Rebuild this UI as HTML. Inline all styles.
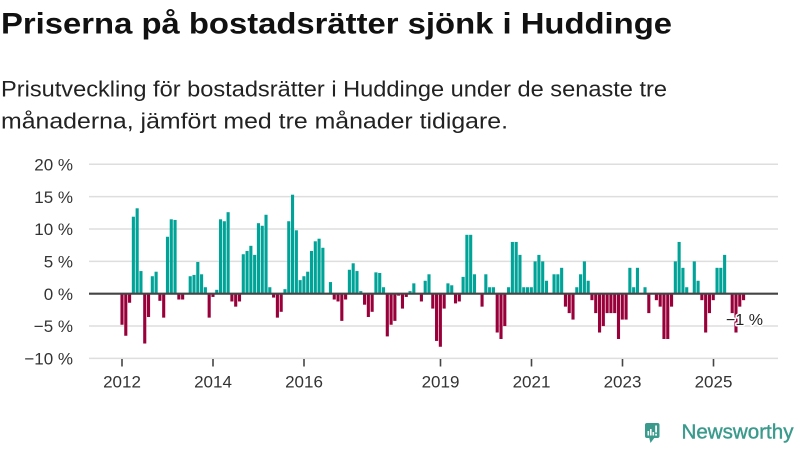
<!DOCTYPE html>
<html><head><meta charset="utf-8"><style>
html,body{margin:0;padding:0;background:#fff;}
svg{display:block;font-family:"Liberation Sans",sans-serif;}
</style></head><body>
<svg width="800" height="450" viewBox="0 0 800 450" xmlns="http://www.w3.org/2000/svg">
<rect width="800" height="450" fill="#fff"/>
<text x="1" y="33.3" font-size="30" font-weight="bold" fill="#111" textLength="671" lengthAdjust="spacingAndGlyphs">Priserna på bostadsrätter sjönk i Huddinge</text>
<text x="1" y="96.7" font-size="22.5" fill="#222" textLength="666" lengthAdjust="spacingAndGlyphs">Prisutveckling för bostadsrätter i Huddinge under de senaste tre</text>
<text x="1" y="128.3" font-size="22.5" fill="#222" textLength="507" lengthAdjust="spacingAndGlyphs">månaderna, jämfört med tre månader tidigare.</text>

<g stroke="#dedede" stroke-width="1.5">
<line x1="89" x2="778" y1="164.3" y2="164.3"/>
<line x1="89" x2="778" y1="196.6" y2="196.6"/>
<line x1="89" x2="778" y1="229.0" y2="229.0"/>
<line x1="89" x2="778" y1="261.35" y2="261.35"/>
<line x1="89" x2="778" y1="326.05" y2="326.05"/>
<line x1="89" x2="778" y1="358.4" y2="358.4"/>
</g>
<g font-size="17" fill="#333" text-anchor="end">
<text x="73" y="170.5">20 %</text>
<text x="73" y="202.8">15 %</text>
<text x="73" y="235.2">10 %</text>
<text x="73" y="267.5">5 %</text>
<text x="73" y="299.9">0 %</text>
<text x="73" y="332.2">−5 %</text>
<text x="73" y="364.6">−10 %</text>
</g>
<g stroke="#444" stroke-width="1.6">
<line x1="122" x2="122" y1="359" y2="366.5"/>
<line x1="213" x2="213" y1="359" y2="366.5"/>
<line x1="304" x2="304" y1="359" y2="366.5"/>
<line x1="440.5" x2="440.5" y1="359" y2="366.5"/>
<line x1="531.5" x2="531.5" y1="359" y2="366.5"/>
<line x1="622.5" x2="622.5" y1="359" y2="366.5"/>
<line x1="713.5" x2="713.5" y1="359" y2="366.5"/>
</g>
<g font-size="17" fill="#333" text-anchor="middle">
<text x="122" y="387.5">2012</text>
<text x="213" y="387.5">2014</text>
<text x="304" y="387.5">2016</text>
<text x="440.5" y="387.5">2019</text>
<text x="531.5" y="387.5">2021</text>
<text x="622.5" y="387.5">2023</text>
<text x="713.5" y="387.5">2025</text>
</g>

<g transform="translate(120.45,293.7) scale(3.79,-6.47)">
<g fill="#99003a">
<rect x="0" y="-4.8" width="0.82" height="4.8"/>
<rect x="1" y="-6.5" width="0.82" height="6.5"/>
<rect x="2" y="-1.4" width="0.82" height="1.4"/>
<rect x="6" y="-7.7" width="0.82" height="7.7"/>
<rect x="7" y="-3.6" width="0.82" height="3.6"/>
<rect x="10" y="-1.1" width="0.82" height="1.1"/>
<rect x="11" y="-3.7" width="0.82" height="3.7"/>
<rect x="15" y="-0.9" width="0.82" height="0.9"/>
<rect x="16" y="-0.9" width="0.82" height="0.9"/>
<rect x="23" y="-3.7" width="0.82" height="3.7"/>
<rect x="24" y="-0.5" width="0.82" height="0.5"/>
<rect x="29" y="-1.2" width="0.82" height="1.2"/>
<rect x="30" y="-2.0" width="0.82" height="2.0"/>
<rect x="31" y="-1.2" width="0.82" height="1.2"/>
<rect x="40" y="-0.6" width="0.82" height="0.6"/>
<rect x="41" y="-3.7" width="0.82" height="3.7"/>
<rect x="42" y="-2.8" width="0.82" height="2.8"/>
<rect x="56" y="-0.9" width="0.82" height="0.9"/>
<rect x="57" y="-1.2" width="0.82" height="1.2"/>
<rect x="58" y="-4.2" width="0.82" height="4.2"/>
<rect x="59" y="-0.9" width="0.82" height="0.9"/>
<rect x="64" y="-1.7" width="0.82" height="1.7"/>
<rect x="65" y="-3.6" width="0.82" height="3.6"/>
<rect x="66" y="-2.8" width="0.82" height="2.8"/>
<rect x="70" y="-6.6" width="0.82" height="6.6"/>
<rect x="71" y="-4.8" width="0.82" height="4.8"/>
<rect x="72" y="-4.2" width="0.82" height="4.2"/>
<rect x="73" y="-0.3" width="0.82" height="0.3"/>
<rect x="74" y="-2.3" width="0.82" height="2.3"/>
<rect x="75" y="-0.5" width="0.82" height="0.5"/>
<rect x="79" y="-1.2" width="0.82" height="1.2"/>
<rect x="82" y="-2.3" width="0.82" height="2.3"/>
<rect x="83" y="-7.3" width="0.82" height="7.3"/>
<rect x="84" y="-8.2" width="0.82" height="8.2"/>
<rect x="85" y="-2.3" width="0.82" height="2.3"/>
<rect x="88" y="-1.5" width="0.82" height="1.5"/>
<rect x="89" y="-1.2" width="0.82" height="1.2"/>
<rect x="95" y="-2.0" width="0.82" height="2.0"/>
<rect x="99" y="-6.0" width="0.82" height="6.0"/>
<rect x="100" y="-7.0" width="0.82" height="7.0"/>
<rect x="101" y="-5.0" width="0.82" height="5.0"/>
<rect x="117" y="-2.0" width="0.82" height="2.0"/>
<rect x="118" y="-3.0" width="0.82" height="3.0"/>
<rect x="119" y="-4.0" width="0.82" height="4.0"/>
<rect x="124" y="-1.0" width="0.82" height="1.0"/>
<rect x="125" y="-3.0" width="0.82" height="3.0"/>
<rect x="126" y="-6.0" width="0.82" height="6.0"/>
<rect x="127" y="-5.0" width="0.82" height="5.0"/>
<rect x="128" y="-3.0" width="0.82" height="3.0"/>
<rect x="129" y="-3.0" width="0.82" height="3.0"/>
<rect x="130" y="-3.0" width="0.82" height="3.0"/>
<rect x="131" y="-7.0" width="0.82" height="7.0"/>
<rect x="132" y="-4.0" width="0.82" height="4.0"/>
<rect x="133" y="-4.0" width="0.82" height="4.0"/>
<rect x="139" y="-3.0" width="0.82" height="3.0"/>
<rect x="141" y="-1.0" width="0.82" height="1.0"/>
<rect x="142" y="-2.0" width="0.82" height="2.0"/>
<rect x="143" y="-7.0" width="0.82" height="7.0"/>
<rect x="144" y="-7.0" width="0.82" height="7.0"/>
<rect x="145" y="-2.0" width="0.82" height="2.0"/>
<rect x="153" y="-1.0" width="0.82" height="1.0"/>
<rect x="154" y="-6.0" width="0.82" height="6.0"/>
<rect x="155" y="-3.0" width="0.82" height="3.0"/>
<rect x="156" y="-1.0" width="0.82" height="1.0"/>
<rect x="161" y="-3.0" width="0.82" height="3.0"/>
<rect x="162" y="-6.0" width="0.82" height="6.0"/>
<rect x="163" y="-2.0" width="0.82" height="2.0"/>
<rect x="164" y="-1.0" width="0.82" height="1.0"/>
</g>
<g fill="#00a398">
<rect x="3" y="0" width="0.82" height="11.9"/>
<rect x="4" y="0" width="0.82" height="13.2"/>
<rect x="5" y="0" width="0.82" height="3.5"/>
<rect x="8" y="0" width="0.82" height="2.7"/>
<rect x="9" y="0" width="0.82" height="3.4"/>
<rect x="12" y="0" width="0.82" height="8.8"/>
<rect x="13" y="0" width="0.82" height="11.5"/>
<rect x="14" y="0" width="0.82" height="11.4"/>
<rect x="18" y="0" width="0.82" height="2.7"/>
<rect x="19" y="0" width="0.82" height="2.9"/>
<rect x="20" y="0" width="0.82" height="4.9"/>
<rect x="21" y="0" width="0.82" height="3.0"/>
<rect x="22" y="0" width="0.82" height="1.0"/>
<rect x="25" y="0" width="0.82" height="0.6"/>
<rect x="26" y="0" width="0.82" height="11.5"/>
<rect x="27" y="0" width="0.82" height="11.2"/>
<rect x="28" y="0" width="0.82" height="12.6"/>
<rect x="32" y="0" width="0.82" height="6.1"/>
<rect x="33" y="0" width="0.82" height="6.6"/>
<rect x="34" y="0" width="0.82" height="7.4"/>
<rect x="35" y="0" width="0.82" height="6.0"/>
<rect x="36" y="0" width="0.82" height="10.9"/>
<rect x="37" y="0" width="0.82" height="10.5"/>
<rect x="38" y="0" width="0.82" height="12.2"/>
<rect x="39" y="0" width="0.82" height="1.0"/>
<rect x="43" y="0" width="0.82" height="0.7"/>
<rect x="44" y="0" width="0.82" height="11.2"/>
<rect x="45" y="0" width="0.82" height="15.3"/>
<rect x="46" y="0" width="0.82" height="9.8"/>
<rect x="47" y="0" width="0.82" height="2.1"/>
<rect x="48" y="0" width="0.82" height="2.7"/>
<rect x="49" y="0" width="0.82" height="3.4"/>
<rect x="50" y="0" width="0.82" height="6.6"/>
<rect x="51" y="0" width="0.82" height="8.1"/>
<rect x="52" y="0" width="0.82" height="8.5"/>
<rect x="53" y="0" width="0.82" height="7.1"/>
<rect x="55" y="0" width="0.82" height="1.8"/>
<rect x="60" y="0" width="0.82" height="3.7"/>
<rect x="61" y="0" width="0.82" height="4.7"/>
<rect x="62" y="0" width="0.82" height="3.5"/>
<rect x="63" y="0" width="0.82" height="0.4"/>
<rect x="67" y="0" width="0.82" height="3.3"/>
<rect x="68" y="0" width="0.82" height="3.2"/>
<rect x="69" y="0" width="0.82" height="1.0"/>
<rect x="76" y="0" width="0.82" height="0.4"/>
<rect x="77" y="0" width="0.82" height="1.6"/>
<rect x="80" y="0" width="0.82" height="2.0"/>
<rect x="81" y="0" width="0.82" height="3.0"/>
<rect x="86" y="0" width="0.82" height="1.6"/>
<rect x="87" y="0" width="0.82" height="1.3"/>
<rect x="90" y="0" width="0.82" height="2.6"/>
<rect x="91" y="0" width="0.82" height="9.1"/>
<rect x="92" y="0" width="0.82" height="9.1"/>
<rect x="93" y="0" width="0.82" height="3.0"/>
<rect x="96" y="0" width="0.82" height="3.0"/>
<rect x="97" y="0" width="0.82" height="1.0"/>
<rect x="98" y="0" width="0.82" height="1.0"/>
<rect x="102" y="0" width="0.82" height="1.0"/>
<rect x="103" y="0" width="0.82" height="8.0"/>
<rect x="104" y="0" width="0.82" height="8.0"/>
<rect x="105" y="0" width="0.82" height="6.0"/>
<rect x="106" y="0" width="0.82" height="1.0"/>
<rect x="107" y="0" width="0.82" height="1.0"/>
<rect x="108" y="0" width="0.82" height="1.0"/>
<rect x="109" y="0" width="0.82" height="5.0"/>
<rect x="110" y="0" width="0.82" height="6.0"/>
<rect x="111" y="0" width="0.82" height="5.0"/>
<rect x="112" y="0" width="0.82" height="2.0"/>
<rect x="114" y="0" width="0.82" height="3.0"/>
<rect x="115" y="0" width="0.82" height="3.0"/>
<rect x="116" y="0" width="0.82" height="4.0"/>
<rect x="120" y="0" width="0.82" height="1.0"/>
<rect x="121" y="0" width="0.82" height="3.0"/>
<rect x="122" y="0" width="0.82" height="5.0"/>
<rect x="123" y="0" width="0.82" height="2.0"/>
<rect x="134" y="0" width="0.82" height="4.0"/>
<rect x="135" y="0" width="0.82" height="1.0"/>
<rect x="136" y="0" width="0.82" height="4.0"/>
<rect x="138" y="0" width="0.82" height="1.0"/>
<rect x="146" y="0" width="0.82" height="5.0"/>
<rect x="147" y="0" width="0.82" height="8.0"/>
<rect x="148" y="0" width="0.82" height="4.0"/>
<rect x="149" y="0" width="0.82" height="1.0"/>
<rect x="151" y="0" width="0.82" height="5.0"/>
<rect x="152" y="0" width="0.82" height="2.0"/>
<rect x="157" y="0" width="0.82" height="4.0"/>
<rect x="158" y="0" width="0.82" height="4.0"/>
<rect x="159" y="0" width="0.82" height="6.0"/>
</g>
</g>
<line x1="89" x2="778" y1="293.7" y2="293.7" stroke="#444" stroke-width="2.2"/>

<text x="744.5" y="325" font-size="16" fill="#222" text-anchor="middle" stroke="#fff" stroke-width="3" paint-order="stroke" stroke-linejoin="round">−1 %</text>

<rect x="645" y="423" width="14.5" height="15" rx="2" fill="#3a9a8c"/>
<polygon points="649,437 655,437 650.5,443" fill="#3a9a8c"/>
<rect x="647.5" y="431" width="1.6" height="4.5" fill="#fff"/>
<rect x="650" y="429" width="1.6" height="6.5" fill="#fff"/>
<rect x="652.5" y="432" width="1.6" height="3.5" fill="#fff"/>
<rect x="655.2" y="425.5" width="1.8" height="7" fill="#fff"/>
<rect x="655.2" y="433.8" width="1.8" height="1.8" fill="#fff"/>
<text x="681.5" y="438.3" font-size="20" fill="#3a9a8c" stroke="#3a9a8c" stroke-width="0.4" textLength="112" lengthAdjust="spacingAndGlyphs">Newsworthy</text>
</svg>
</body></html>
